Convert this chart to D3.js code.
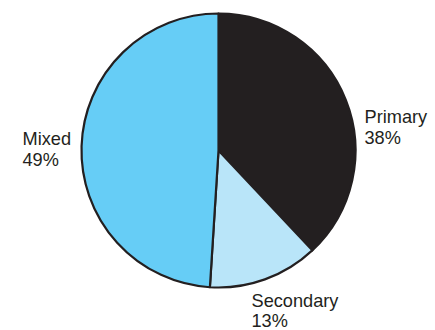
<!DOCTYPE html>
<html>
<head>
<meta charset="utf-8">
<script src="https://cdn.jsdelivr.net/npm/d3@7"></script>
<style>
  html, body { margin: 0; padding: 0; background: #fff; }
  svg { display: block; }
  text { font-family: "Liberation Sans", Arial, Helvetica, sans-serif; fill: #231f20; }
</style>
</head>
<body>
<svg id="chart" width="435" height="330"></svg>
<script>
// School type shares
const categories = ["Primary", "Secondary", "Mixed"];
const shares = [38, 13, 49];
const colors = ["#231f20", "#b9e5f9", "#66cdf6"];

const svg = d3.select("#chart");
const cx = 218.5, cy = 150.5, radius = 137;

const pie = d3.pie().sort(null).value(d => d.value);
const arc = d3.arc().innerRadius(0).outerRadius(radius);

const data = categories.map((c, i) => ({ name: c, value: shares[i], color: colors[i] }));
const arcs = pie(data);

const g = svg.append("g").attr("transform", `translate(${cx},${cy})`);

g.selectAll("path")
  .data(arcs)
  .join("path")
  .attr("d", arc)
  .attr("fill", d => d.data.color)
  .attr("stroke", "#231f20")
  .attr("stroke-width", 2.2)
  .attr("stroke-linejoin", "round");

// Label positions beside each slice
const labelPos = {
  Primary:   { x: 364.5, y: 123 },
  Secondary: { x: 251.5, y: 306.5 },
  Mixed:     { x: 22.5,  y: 145 }
};

const labels = svg.selectAll("text.lbl")
  .data(arcs)
  .join("text")
  .attr("class", "lbl")
  .attr("font-size", 18.2)
  .attr("x", d => labelPos[d.data.name].x)
  .attr("y", d => labelPos[d.data.name].y);

labels.append("tspan")
  .attr("x", d => labelPos[d.data.name].x)
  .text(d => d.data.name);
labels.append("tspan")
  .attr("x", d => labelPos[d.data.name].x)
  .attr("dy", 20.5)
  .text(d => d.data.value + "%");
</script>
</body>
</html>
